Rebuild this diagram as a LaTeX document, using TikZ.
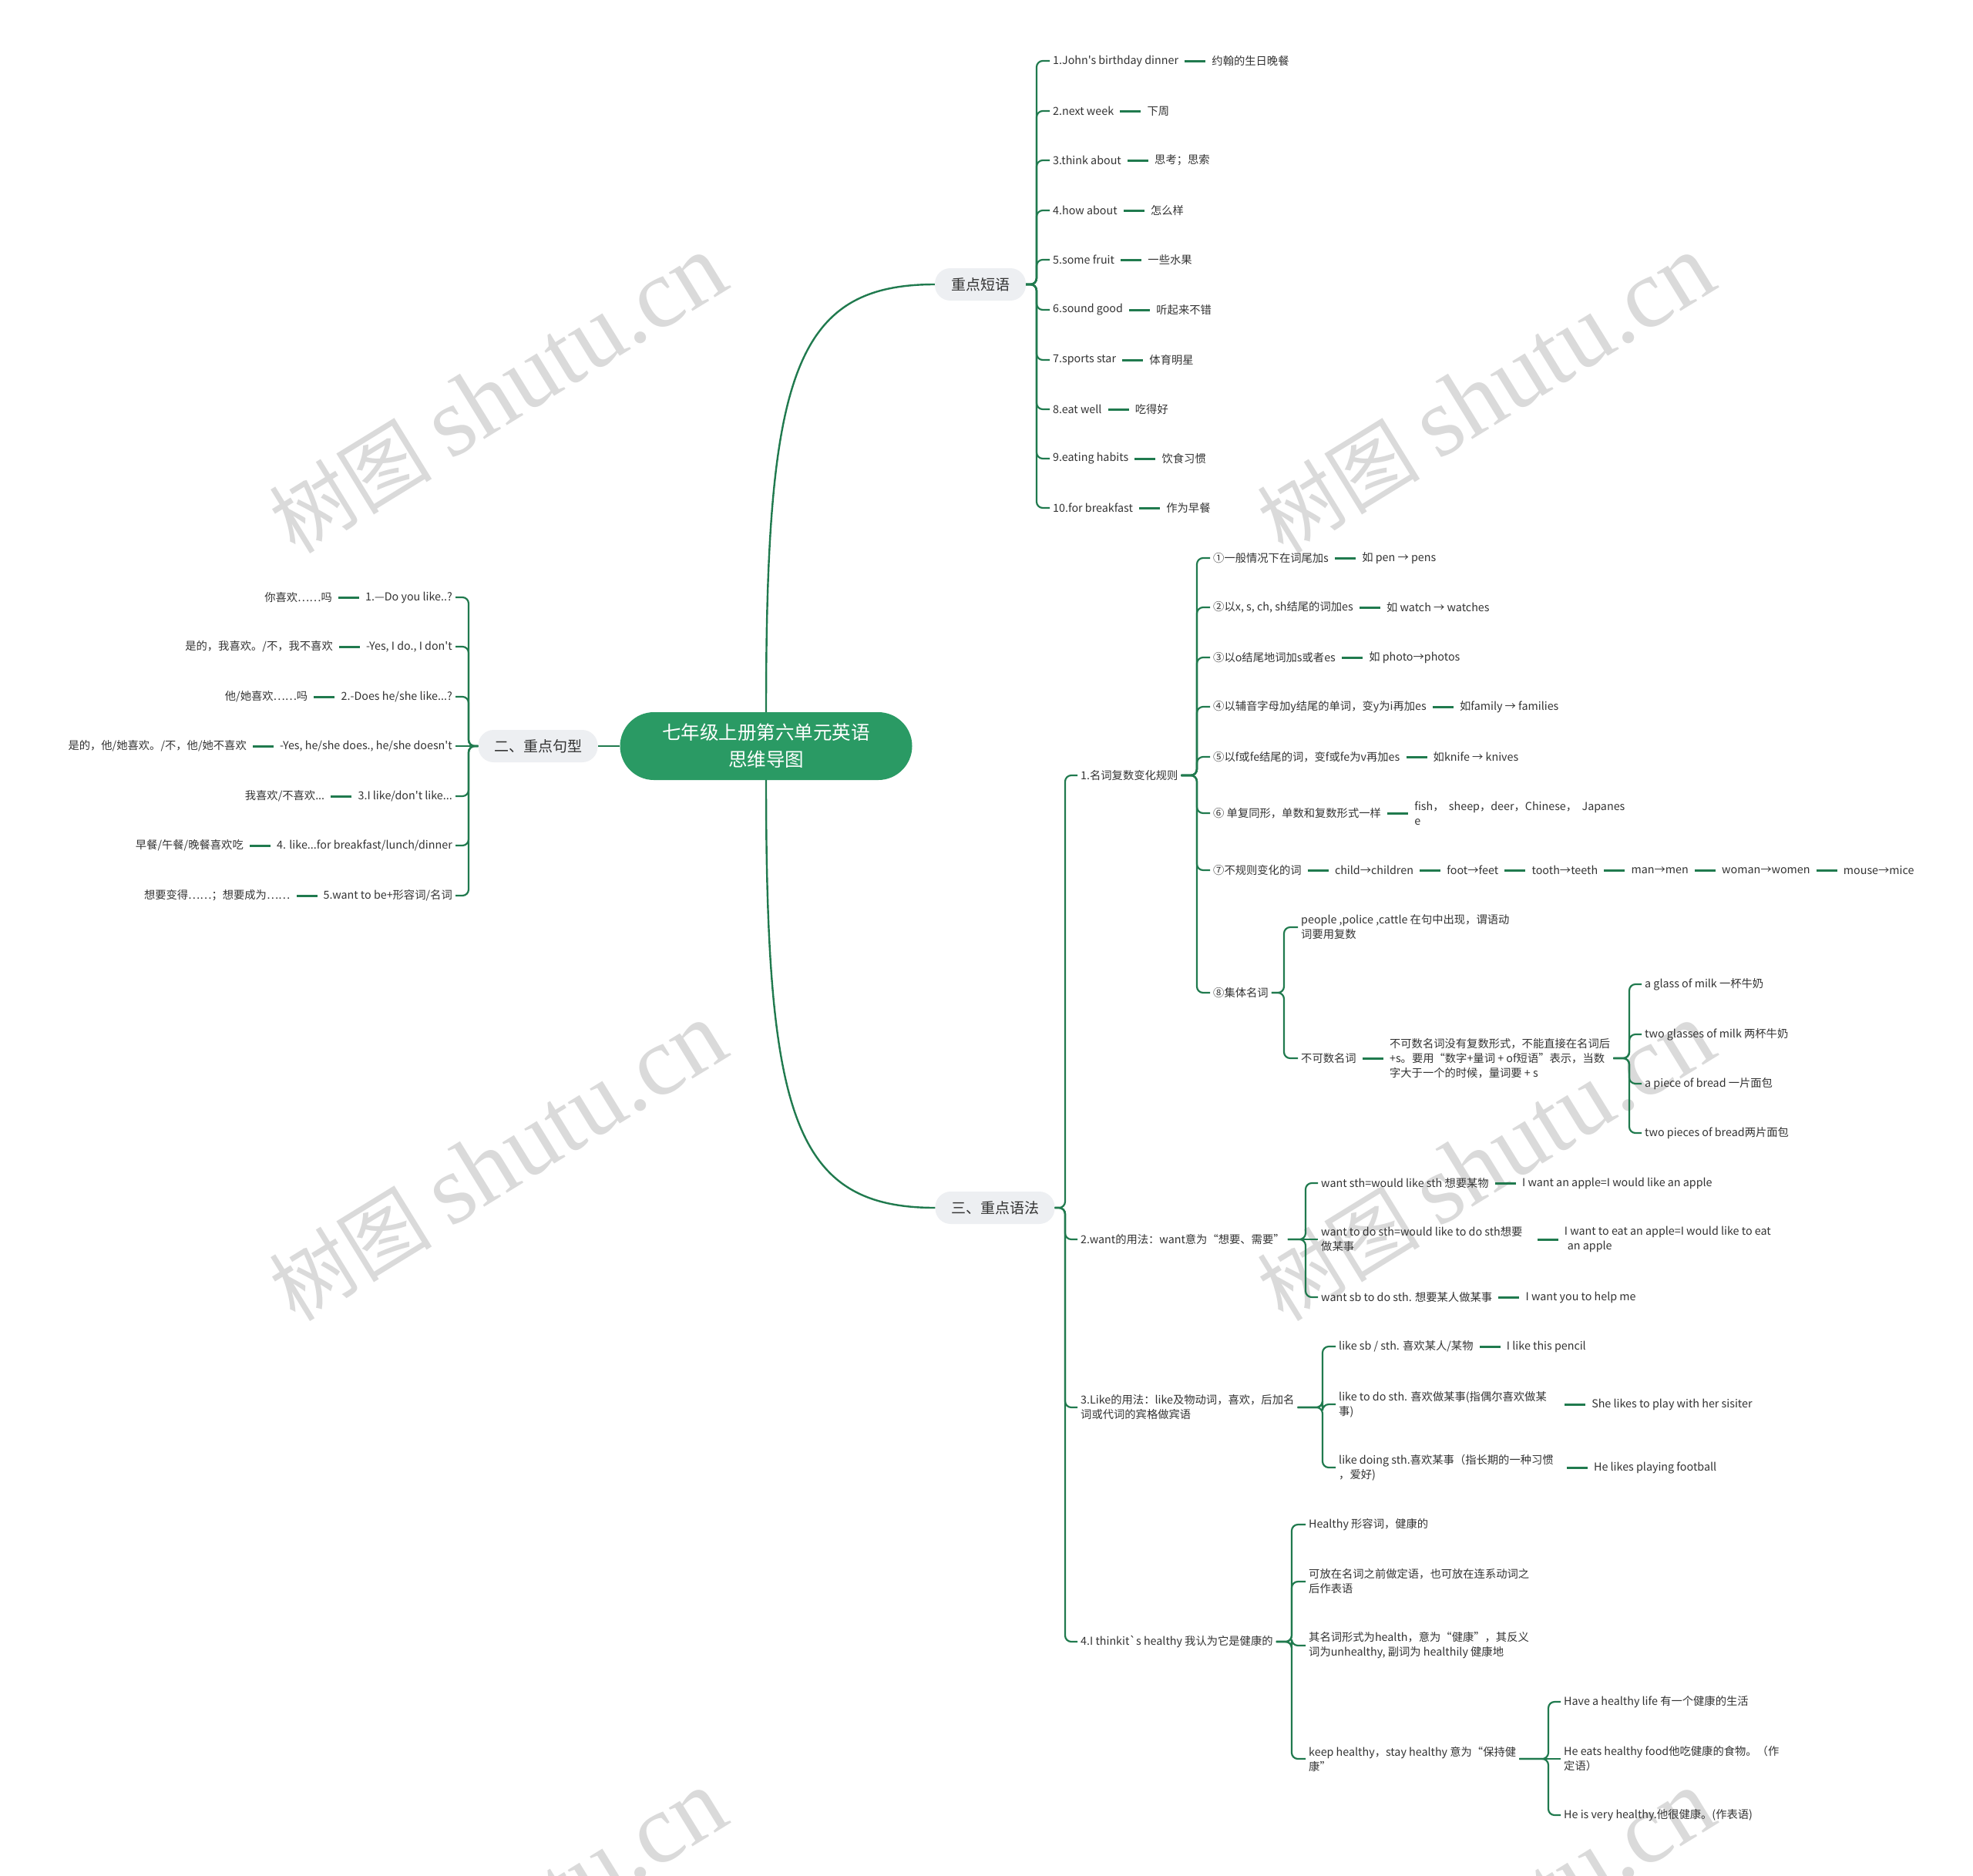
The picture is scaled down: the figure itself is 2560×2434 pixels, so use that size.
\documentclass[tikz,border=0pt]{standalone}
\usepackage{fontspec}
\setmainfont{Noto Sans CJK SC}
\newfontfamily\mainf{Noto Sans CJK SC}
\newfontfamily\wmserif{Liberation Serif}
\usetikzlibrary{positioning}
\definecolor{lg}{RGB}{32,122,78}
\definecolor{rootc}{RGB}{42,154,100}
\definecolor{brc}{RGB}{237,239,242}
\definecolor{txt}{RGB}{51,51,51}
\definecolor{wmc}{RGB}{218,218,218}
\newcommand{\wmtext}{{\mainf\fontsize{106pt}{106pt}\selectfont 树图}\hspace{24pt}{\wmserif\fontsize{128pt}{128pt}\selectfont shutu.cn}}
\begin{document}
\begin{tikzpicture}[x=1pt,y=-1pt,
  leaf/.style={font=\mainf\fontsize{14.3pt}{19pt}\selectfont, text=txt, inner xsep=4pt, inner ysep=2pt, align=left, anchor=west},
  lleaf/.style={leaf, align=right, anchor=east},
  brnode/.style={fill=brc, rounded corners=20pt, text=txt, font=\mainf\fontsize{19pt}{23pt}\selectfont, minimum height=42pt, inner sep=0pt},
  rootnode/.style={fill=rootc, rounded corners=44pt, text=white, font=\mainf\fontsize{24.5pt}{35pt}\selectfont, minimum width=379pt, minimum height=88pt, align=center, inner sep=0pt},
  conn/.style={draw=lg, line width=3pt, shorten <=#1, shorten >=4pt},
  conn/.default=4pt,
  brk/.style={draw=lg, line width=2.2pt, rounded corners=8pt},
  mainc/.style={draw=lg, line width=2.4pt},
  wmark/.style={text=wmc, rotate=31.6, inner sep=0pt}
]
\useasboundingbox (0,0) rectangle (2560,2434);

% watermarks
\node[wmark] (wm1) at (646,512) {\wmtext};
\node[wmark] (wm2) at (1928,512) {\wmtext};
\node[wmark] (wm3) at (646,1508) {\wmtext};
\node[wmark] (wm4) at (1928,1508) {\wmtext};
\node[wmark] (wm5) at (646,2504) {\wmtext};
\node[wmark] (wm6) at (1928,2504) {\wmtext};

% root and branches
\node[rootnode] (root) at (994,968) {七年级上册第六单元英语\\思维导图};
\node[brnode, minimum width=118pt] (b1) at (1272,369) {重点短语};
\node[brnode, minimum width=155pt] (b2) at (698,968) {二、重点句型};
\node[brnode, minimum width=155pt] (b3) at (1291,1567) {三、重点语法};
\draw[mainc] (root.north) .. controls (994,490) and (1029,369) .. (b1.west);
\draw[mainc] (root.south) .. controls (994,1446) and (1029,1567) .. (b3.west);
\draw[mainc] (root.west) -- (b2.east);

% ---------- 重点短语 ----------
\node[leaf] (p1) at (1362,79) {1.John's birthday dinner};
\node[leaf,right=35pt of p1] (q1) {约翰的生日晚餐};
\node[leaf] (p2) at (1362,144) {2.next week};
\node[leaf,right=35pt of p2] (q2) {下周};
\node[leaf] (p3) at (1362,208) {3.think about};
\node[leaf,right=35pt of p3] (q3) {思考；思索};
\node[leaf] (p4) at (1362,273) {4.how about};
\node[leaf,right=35pt of p4] (q4) {怎么样};
\node[leaf] (p5) at (1362,337) {5.some fruit};
\node[leaf,right=35pt of p5] (q5) {一些水果};
\node[leaf] (p6) at (1362,402) {6.sound good};
\node[leaf,right=35pt of p6] (q6) {听起来不错};
\node[leaf] (p7) at (1362,467) {7.sports star};
\node[leaf,right=35pt of p7] (q7) {体育明星};
\node[leaf] (p8) at (1362,531) {8.eat well};
\node[leaf,right=35pt of p8] (q8) {吃得好};
\node[leaf] (p9) at (1362,595) {9.eating habits};
\node[leaf,right=35pt of p9] (q9) {饮食习惯};
\node[leaf] (p10) at (1362,659) {10.for breakfast};
\node[leaf,right=35pt of p10] (q10) {作为早餐};
\foreach \i in {1,...,10} {
  \draw[brk] (b1.east) -| ([xshift=-17pt]p\i.west) -- (p\i.west);
  \draw[conn] (p\i.east) -- (q\i.west);
}

% ---------- 二、重点句型 ----------
\node[lleaf] (ll1) at (591,775) {1.—Do you like..?};
\node[lleaf,left=35pt of ll1] (lc1) {你喜欢……吗};
\node[lleaf] (ll2) at (591,839) {-Yes, I do., I don't};
\node[lleaf,left=35pt of ll2] (lc2) {是的，我喜欢。/不，我不喜欢};
\node[lleaf] (ll3) at (591,904) {2.-Does he/she like...?};
\node[lleaf,left=35pt of ll3] (lc3) {他/她喜欢……吗};
\node[lleaf] (ll4) at (591,968) {-Yes, he/she does., he/she doesn't};
\node[lleaf,left=35pt of ll4] (lc4) {是的，他/她喜欢。/不，他/她不喜欢};
\node[lleaf] (ll5) at (591,1033) {3.I like/don't like...};
\node[lleaf,left=35pt of ll5] (lc5) {我喜欢/不喜欢...};
\node[lleaf] (ll6) at (591,1097) {4. like...for breakfast/lunch/dinner};
\node[lleaf,left=35pt of ll6] (lc6) {早餐/午餐/晚餐喜欢吃};
\node[lleaf] (ll7) at (591,1162) {5.want to be+形容词/名词};
\node[lleaf,left=35pt of ll7] (lc7) {想要变得……；想要成为……};
\foreach \i in {1,2,3,5,6,7} {
  \draw[brk] (b2.west) -| ([xshift=17pt]ll\i.east) -- (ll\i.east);
}
\draw[brk] (b2.west) -- (ll4.east);
\foreach \i in {1,...,7} {
  \draw[conn] (ll\i.west) -- (lc\i.east);
}

% ---------- 三、重点语法 ----------
\node[leaf] (g1) at (1398,1006) {1.名词复数变化规则};
\node[leaf] (g2) at (1398,1608) {2.want的用法：want意为“想要、需要”};
\node[leaf] (g3) at (1398,1826) {3.Like的用法：like及物动词，喜欢，后加名\\词或代词的宾格做宾语};
\node[leaf] (g4) at (1398,2130) {4.I thinkit\textasciigrave s healthy 我认为它是健康的};
\foreach \i in {1,...,4} {
  \draw[brk] (b3.east) -| ([xshift=-16pt]g\i.west) -- (g\i.west);
}

% 1. plural rules
\node[leaf] (r1) at (1570,724) {①一般情况下在词尾加s};
\node[leaf,right=35pt of r1] (s1) {如 pen → pens};
\node[leaf] (r2) at (1570,788) {②以x, s, ch, sh结尾的词加es};
\node[leaf,right=35pt of r2] (s2) {如 watch → watches};
\node[leaf] (r3) at (1570,853) {③以o结尾地词加s或者es};
\node[leaf,right=35pt of r3] (s3) {如 photo→photos};
\node[leaf] (r4) at (1570,917) {④以辅音字母加y结尾的单词，变y为i再加es};
\node[leaf,right=35pt of r4] (s4) {如family → families};
\node[leaf] (r5) at (1570,982) {⑤以f或fe结尾的词，变f或fe为v再加es};
\node[leaf,right=35pt of r5] (s5) {如knife → knives};
\node[leaf] (r6) at (1570,1055) {⑥ 单复同形，单数和复数形式一样};
\node[leaf,right=35pt of r6] (s6) {fish，\ \ sheep，deer，Chinese，\ \ Japanes\\e};
\node[leaf] (r7) at (1570,1129) {⑦不规则变化的词};
\node[leaf,right=35pt of r7] (s7) {child→children};
\node[leaf,right=35pt of s7] (i2) {foot→feet};
\node[leaf,right=35pt of i2] (i3) {tooth→teeth};
\node[leaf,right=35pt of i3] (i4) {man→men};
\node[leaf,right=35pt of i4] (i5) {woman→women};
\node[leaf,right=35pt of i5] (i6) {mouse→mice};
\node[leaf] (r8) at (1570,1288) {⑧集体名词};
\foreach \i in {1,...,8} {
  \draw[brk] (g1.east) -| ([xshift=-17pt]r\i.west) -- (r\i.west);
}
\foreach \i in {1,...,7} {
  \draw[conn] (r\i.east) -- (s\i.west);
}
\draw[conn] (s7.east) -- (i2.west);
\draw[conn] (i2.east) -- (i3.west);
\draw[conn] (i3.east) -- (i4.west);
\draw[conn] (i4.east) -- (i5.west);
\draw[conn] (i5.east) -- (i6.west);

% collective nouns
\node[leaf] (c1) at (1684,1203) {people ,police ,cattle 在句中出现，谓语动\\词要用复数};
\node[leaf] (c2) at (1684,1373) {不可数名词};
\node[leaf,right=35pt of c2] (u1) {不可数名词没有复数形式，不能直接在名词后\\+s。要用“数字+量词 + of短语”表示，当数\\字大于一个的时候，量词要 + s};
\draw[brk] (r8.east) -| ([xshift=-18pt]c1.west) -- (c1.west);
\draw[brk] (r8.east) -| ([xshift=-18pt]c2.west) -- (c2.west);
\draw[conn] (c2.east) -- (u1.west);
\node[leaf] (n1) at (2130,1277) {a glass of milk 一杯牛奶};
\node[leaf] (n2) at (2130,1342) {two glasses of milk 两杯牛奶};
\node[leaf] (n3) at (2130,1406) {a piece of bread 一片面包};
\node[leaf] (n4) at (2130,1470) {two pieces of bread两片面包};
\foreach \i in {1,...,4} {
  \draw[brk] (u1.east) -| ([xshift=-16pt]n\i.west) -- (n\i.west);
}

% 2. want
\node[leaf] (w1) at (1710,1535) {want sth=would like sth 想要某物};
\node[leaf,right=35pt of w1] (x1) {I want an apple=I would like an apple};
\node[leaf] (w2) at (1710,1608) {want to do sth=would like to do sth想要\\做某事};
\node[leaf,right=46pt of w2] (x2) {I want to eat an apple=I would like to eat\\\hspace*{4pt}an apple};
\node[leaf] (w3) at (1710,1683) {want sb to do sth. 想要某人做某事};
\node[leaf,right=35pt of w3] (x3) {I want you to help me};
\draw[brk] (g2.east) -| ([xshift=-16pt]w1.west) -- (w1.west);
\draw[brk] (g2.east) -- (w2.west);
\draw[brk] (g2.east) -| ([xshift=-16pt]w3.west) -- (w3.west);
\draw[conn] (w1.east) -- (x1.west);
\draw[conn=15pt] (w2.east) -- (x2.west);
\draw[conn] (w3.east) -- (x3.west);

% 3. like
\node[leaf] (k1) at (1733,1747) {like sb / sth. 喜欢某人/某物};
\node[leaf,right=35pt of k1] (y1) {I like this pencil};
\node[leaf] (k2) at (1733,1822) {like to do sth. 喜欢做某事(指偶尔喜欢做某\\事)};
\node[leaf,right=50pt of k2] (y2) {She likes to play with her sisiter};
\node[leaf] (k3) at (1733,1904) {like doing sth.喜欢某事（指长期的一种习惯\\，爱好)};
\node[leaf,right=44pt of k3] (y3) {He likes playing football};
\foreach \i in {1,2,3} {
  \draw[brk] (g3.east) -| ([xshift=-17pt]k\i.west) -- (k\i.west);
}
\draw[conn] (k1.east) -- (y1.west);
\draw[conn=19pt] (k2.east) -- (y2.west);
\draw[conn=13pt] (k3.east) -- (y3.west);

% 4. healthy
\node[leaf] (h1) at (1694,1978) {Healthy 形容词，健康的};
\node[leaf] (h2) at (1694,2052) {可放在名词之前做定语，也可放在连系动词之\\后作表语};
\node[leaf] (h3) at (1694,2135) {其名词形式为health，意为“健康”，其反义\\词为unhealthy, 副词为 healthily 健康地};
\node[leaf] (h4) at (1694,2282) {keep healthy，stay healthy 意为“保持健\\康”};
\foreach \i in {1,...,4} {
  \draw[brk] (g4.east) -| ([xshift=-18pt]h\i.west) -- (h\i.west);
}
\node[leaf] (e1) at (2025,2208) {Have a healthy life 有一个健康的生活};
\node[leaf] (e2) at (2025,2282) {He eats healthy food他吃健康的食物。（作\\定语）};
\node[leaf] (e3) at (2025,2355) {He is very healthy.他很健康。(作表语)};
\draw[brk] (h4.east) -| ([xshift=-16pt]e1.west) -- (e1.west);
\draw[brk] (h4.east) -- (e2.west);
\draw[brk] (h4.east) -| ([xshift=-16pt]e3.west) -- (e3.west);
\end{tikzpicture}
\end{document}
